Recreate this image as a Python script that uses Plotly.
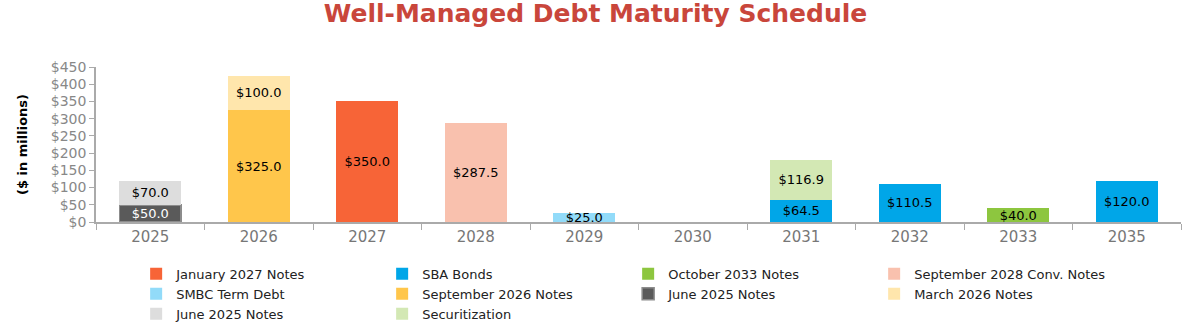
import plotly.graph_objects as go

years = ["2025", "2026", "2027", "2028", "2029", "2030", "2031", "2032", "2033", "2035"]

# Each series: (name, {year: value}, fill colour, text colour, outline colour)
jan_2027_notes = {"2027": 350.0}
sba_bonds = {"2031": 64.5, "2032": 110.5, "2035": 120.0}
oct_2033_notes = {"2033": 40.0}
sep_2028_conv_notes = {"2028": 287.5}
smbc_term_debt = {"2029": 25.0}
sep_2026_notes = {"2026": 325.0}
june_2025_notes_a = {"2025": 50.0}
mar_2026_notes = {"2026": 100.0}
june_2025_notes_b = {"2025": 70.0}
securitization = {"2031": 116.9}

series = [
    ("January 2027 Notes", jan_2027_notes, "#F76437", "#000000", None),
    ("SBA Bonds", sba_bonds, "#00A6E8", "#000000", None),
    ("October 2033 Notes", oct_2033_notes, "#8DC63F", "#000000", None),
    ("September 2028 Conv. Notes", sep_2028_conv_notes, "#F9C1AE", "#000000", None),
    ("SMBC Term Debt", smbc_term_debt, "#92DBF9", "#000000", None),
    ("September 2026 Notes", sep_2026_notes, "#FFC64B", "#000000", None),
    ("June 2025 Notes", june_2025_notes_a, "#5A5A5A", "#FFFFFF", "#8C8C8C"),
    ("March 2026 Notes", mar_2026_notes, "#FFE6AC", "#000000", None),
    ("June 2025 Notes", june_2025_notes_b, "#DDDDDD", "#000000", None),
    ("Securitization", securitization, "#D3E8B4", "#000000", None),
]

fig = go.Figure()
for name, data, color, tcolor, outline in series:
    xs = list(data.keys())
    ys = list(data.values())
    fig.add_trace(go.Bar(
        name=name,
        x=xs,
        y=ys,
        marker=dict(color=color,
                    line=dict(color=outline if outline else color, width=1.5 if outline else 0)),
        text=[f"${v:.1f}" for v in ys],
        textposition="inside",
        insidetextanchor="middle",
        constraintext="none",
        textangle=0,
        textfont=dict(color=tcolor, size=13, family="DejaVu Sans"),
        hoverinfo="x+y+name",
    ))

fig.update_layout(
    width=1191, height=327,
    barmode="stack",
    bargap=0.43,
    plot_bgcolor="white",
    paper_bgcolor="white",
    font=dict(family="DejaVu Sans", color="#222222"),
    margin=dict(l=96, r=10, t=67, b=105, autoexpand=False),
    title=dict(
        text="<b>Well-Managed Debt Maturity Schedule</b>",
        x=0.5, xanchor="center", y=0.958, yanchor="middle",
        font=dict(size=25, color="#C9463B", family="DejaVu Sans"),
    ),
    xaxis=dict(
        type="category",
        categoryorder="array",
        categoryarray=years,
        showline=True, linecolor="#AAAAAA", linewidth=1.5,
        ticks="outside", tickson="boundaries", ticklen=6, tickcolor="#AAAAAA",
        tickfont=dict(size=15, color="#777777"),
        showgrid=False,
    ),
    yaxis=dict(
        range=[0, 450], dtick=50, tickprefix="$",
        showline=True, linecolor="#AAAAAA", linewidth=1.5,
        ticks="outside", ticklen=5, tickcolor="#AAAAAA",
        tickfont=dict(size=14, color="#888888"),
        showgrid=False, zeroline=False,
        title=dict(text="<b>($ in millions)</b>", font=dict(size=13, color="#000000"), standoff=20),
    ),
    legend=dict(
        orientation="h",
        x=0.037, xanchor="left",
        y=-0.238, yanchor="top",
        entrywidth=201, entrywidthmode="pixels",
        font=dict(size=13, color="#222222"),
        itemwidth=30,
        traceorder="normal",
    ),
)

fig.write_html("out.html")
